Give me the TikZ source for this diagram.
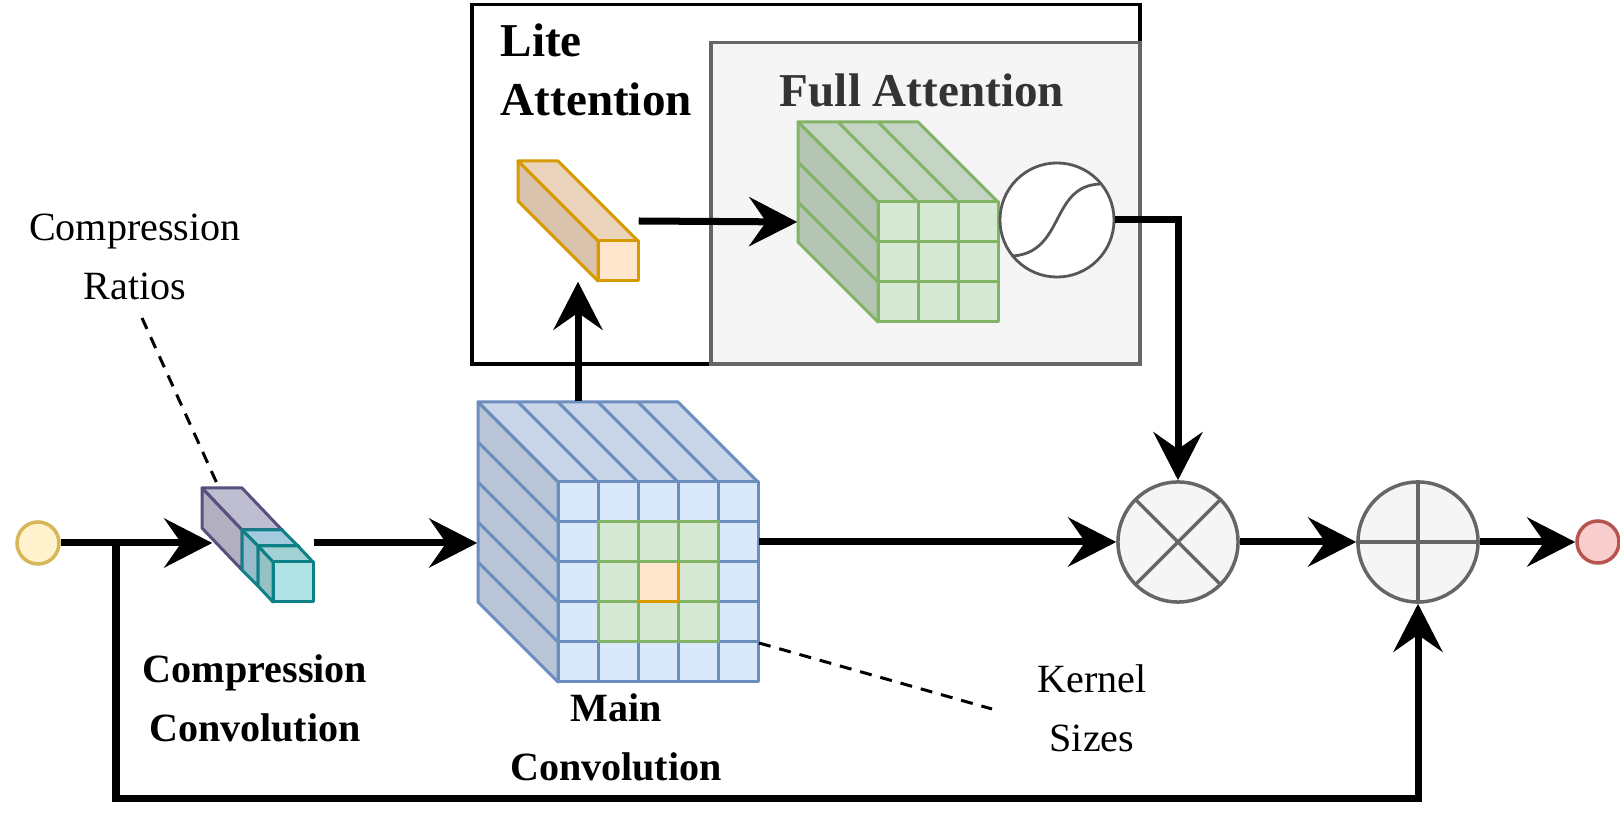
\documentclass[tikz,border=0pt]{standalone}
\usepackage{fontspec}
\setmainfont{Liberation Serif}
\usetikzlibrary{arrows.meta,calc}
\definecolor{blueF}{HTML}{DAE8FC}\definecolor{blueS}{HTML}{6C8EBF}
\definecolor{greenF}{HTML}{D5E8D4}\definecolor{greenS}{HTML}{82B366}
\definecolor{orangeF}{HTML}{FFE6CC}\definecolor{orangeS}{HTML}{D79B00}
\definecolor{purpleF}{HTML}{D0CEE2}\definecolor{purpleS}{HTML}{56517E}
\definecolor{tealF}{HTML}{B0E3E6}\definecolor{tealS}{HTML}{0E8088}
\definecolor{lblueF}{HTML}{B1DDF0}
\definecolor{grayF}{HTML}{F5F5F5}\definecolor{grayS}{HTML}{666666}
\definecolor{yellowF}{HTML}{FFF2CC}\definecolor{yellowS}{HTML}{D6B656}
\definecolor{redF}{HTML}{F8CECC}\definecolor{redS}{HTML}{B85450}
\definecolor{darktext}{HTML}{333333}
\newcommand\drawprism[8]{%
 \filldraw[face, draw=#8, fill=#7!92!black] (#1,#2) -- ++(#5,0) -- ++(#3,#4) -- ++(-#5,0) -- cycle;
 \filldraw[face, draw=#8, fill=#7!85!black] (#1,#2) -- ++(#3,#4) -- ++(0,#6) -- ++(-#3,-#4) -- cycle;
 \filldraw[face, draw=#8, fill=#7] (#1+#3,#2+#4) rectangle ++(#5,#6);
}
\begin{document}
\begin{tikzpicture}[x=0.01cm,y=-0.01cm,
 conn/.style={line width=0.07cm, draw=black},
 arr/.style={conn, -{Stealth[length=0.48cm,width=0.49cm,inset=0.17cm]}},
 hint/.style={line width=0.03cm, dash pattern=on 0.12cm off 0.09cm},
 face/.style={line width=0.03cm, line join=round},
 opnode/.style={circle, draw=grayS, fill=grayF, line width=0.035cm, minimum size=1.2cm, inner sep=0},
 term/.style={circle, line width=0.035cm, minimum size=0.42cm, inner sep=0},
 lbl/.style={font=\fontsize{11.4}{17}\selectfont, align=center, anchor=base, inner sep=0},
 blbl/.style={lbl, font=\fontsize{11.4}{17}\selectfont\bfseries},
 hdr/.style={font=\fontsize{13.4}{16.8}\selectfont\bfseries, inner sep=0},
 region/.style={inner sep=0, draw=none}
]
\fill[white] (0,0) rectangle (1620,840);
\useasboundingbox (0,0) rectangle (1620,840);

% attention boxes
\node[draw=black, line width=0.035cm, minimum width=6.68cm, minimum height=3.59cm, anchor=north west, inner sep=0] (lite) at (470,3) {};
\node[draw=grayS, fill=grayF, line width=0.035cm, minimum width=4.29cm, minimum height=3.21cm, anchor=north west, inner sep=0] (full) at (709,41) {};
\node[hdr, anchor=base west, align=left] (litelbl) at (500,116) {Lite\\Attention};
\node[hdr, anchor=base, text=darktext] (fulllbl) at (922,107) {Full Attention};

% compression block
\drawprism{202}{488}{40}{42}{40}{40}{purpleF}{purpleS}
\drawprism{242}{530}{16}{16}{40}{40}{lblueF}{tealS}
\drawprism{258}{546}{15}{16}{40}{40}{tealF}{tealS}
\node[region, minimum width=1.0cm, minimum height=1.1cm] (comp) at (263,543) {};

% main convolution cube
\drawprism{478}{402}{80}{80}{200}{200}{blueF}{blueS}
\begin{scope}[face, draw=blueS]
\foreach \k in {1,...,4} {
 \draw (558+40*\k,482) -- (478+40*\k,402);
 \draw (558,482+40*\k) -- (478,402+40*\k);
 \draw (558+40*\k,482) -- (558+40*\k,682);
 \draw (558,482+40*\k) -- (758,482+40*\k);
}
\filldraw[fill=greenF, draw=greenS] (598,522) rectangle (718,642);
\fill[orangeF] (638,562) rectangle (678,602);
\draw[greenS] (638,522) -- (638,642) (678,522) -- (678,642) (598,562) -- (718,562) (598,602) -- (718,602);
\draw[orangeS] (678,562) -- (678,602) -- (638,602);
\end{scope}
\node[region, minimum width=2.8cm, minimum height=2.8cm] (mainconv) at (618,542) {};

% lite attention prism
\drawprism{518}{161}{80}{80}{40}{40}{orangeF}{orangeS}
\node[region, minimum width=1.2cm, minimum height=1.2cm] (orange) at (578,221) {};

% full attention cube
\drawprism{798}{122}{80}{80}{120}{120}{greenF}{greenS}
\begin{scope}[face, draw=greenS]
\foreach \k in {1,2} {
 \draw (878+40*\k,202) -- (798+40*\k,122);
 \draw (878,202+40*\k) -- (798,122+40*\k);
 \draw (878+40*\k,202) -- (878+40*\k,322);
 \draw (878,202+40*\k) -- (998,202+40*\k);
}
\end{scope}
\node[region, minimum width=2.0cm, minimum height=2.0cm] (green) at (898,222) {};

% sigmoid
\node[circle, draw=grayS!85!black, fill=white, line width=0.028cm, minimum size=1.14cm, inner sep=0] (sig) at (1057,220) {};
\draw[grayS!85!black, line width=0.028cm] (1013,256) .. controls (1065,252) and (1050,186) .. (1100,184);

% operators
\node[opnode] (mult) at (1178,542) {};
\draw[grayS, line width=0.035cm] ($(mult)+(-42.4,-42.4)$) -- ($(mult)+(42.4,42.4)$) ($(mult)+(-42.4,42.4)$) -- ($(mult)+(42.4,-42.4)$);
\node[opnode] (plus) at (1418,542) {};
\draw[grayS, line width=0.035cm] (plus.north) -- (plus.south) (plus.west) -- (plus.east);

% terminals
\node[term, draw=yellowS, fill=yellowF] (in) at (38,543) {};
\node[term, draw=redS, fill=redF] (out) at (1598,542) {};

% connectors
\coordinate (split) at (116,543);
\coordinate (fbturn) at (116,799);
\draw[arr] (in) -- (comp.west);
\draw[arr] (comp.east) -- (comp.east -| mainconv.west);
\draw[arr] (mainconv.east) -- (mult);
\draw[arr] (mainconv.north -| orange.south) -- (orange.south);
\draw[arr] (orange.east) -- (green.west);
\draw[arr] (sig.east) -| (mult.north);
\draw[arr] (mult) -- (plus);
\draw[arr] (plus) -- (out);
\draw[arr] (split) -- (fbturn) -| (plus.south);

% labels
\node[lbl] (crlabel) at (135,300) {Compression\\Ratios};
\node[blbl] (cclabel) at (255,742) {Compression\\Convolution};
\node[blbl] (mclabel) at (616,781) {Main\\Convolution};
\node[lbl] (kslabel) at (1092,752) {Kernel\\Sizes};
\coordinate (crA) at (142,318);
\coordinate (crB) at (219,488);
\coordinate (ksA) at (759,643);
\coordinate (ksB) at (992,709);
\draw[hint] (crA) -- (crB);
\draw[hint] (ksA) -- (ksB);
\end{tikzpicture}
\end{document}
